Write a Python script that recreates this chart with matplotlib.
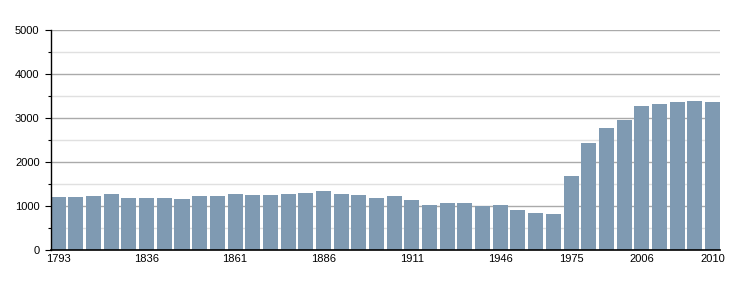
import matplotlib
matplotlib.use("Agg")
import matplotlib.pyplot as plt
import numpy as np

plt.rcParams['font.family'] = ['Liberation Sans', 'DejaVu Sans']

# census years and population
years = [1793, 1800, 1806, 1821, 1831, 1836, 1841, 1846, 1851, 1856,
         1861, 1866, 1872, 1876, 1881, 1886, 1891, 1896, 1901, 1906,
         1911, 1921, 1926, 1931, 1936, 1946, 1954, 1962, 1968, 1975,
         1982, 1990, 1999, 2006, 2007, 2008, 2009, 2010]
population = [1212, 1212, 1235, 1280, 1189, 1189, 1189, 1167, 1235, 1235,
              1280, 1258, 1258, 1280, 1303, 1348, 1280, 1258, 1189, 1235,
              1144, 1030, 1076, 1076, 1008, 1030, 917, 848, 826, 1689,
              2439, 2780, 2962, 3280, 3326, 3371, 3394, 3371]
labelled_years = [1793, 1836, 1861, 1886, 1911, 1946, 1975, 2006, 2010]

fig = plt.figure(figsize=(7.5, 3), dpi=100)
ax = fig.add_axes([0.0676, 0.1667, 0.8924, 0.7323])

x = np.arange(len(years))
w = 0.85
ax.bar(x, population, width=w, color='#7f9ab2', zorder=3)

ax.set_xlim(-w / 2, len(years) - 1 + w / 2)
ax.set_ylim(0, 5000)

# grid: dark at the thousands, light at the halves
ax.set_yticks(np.arange(0, 5001, 1000))
ax.set_yticks(np.arange(500, 5000, 1000), minor=True)
ax.grid(axis='y', which='major', color='#aaaaaa', linewidth=1, zorder=1)
ax.grid(axis='y', which='minor', color='#e0e0e0', linewidth=1, zorder=1)

ticks = [years.index(y) for y in labelled_years]
ax.set_xticks(ticks)
ax.set_xticklabels([str(y) for y in labelled_years])

ax.tick_params(axis='x', length=0, pad=3, labelsize=8)
ax.tick_params(axis='y', which='major', length=4, width=0.8, labelsize=8, pad=4)
ax.tick_params(axis='y', which='minor', length=2, width=0.8)

for s in ['top', 'right']:
    ax.spines[s].set_visible(False)
ax.spines['left'].set_linewidth(1)
ax.spines['bottom'].set_linewidth(1.2)
ax.spines['left'].set_zorder(4)
ax.spines['bottom'].set_zorder(4)

fig.savefig('out.png', dpi=100)
